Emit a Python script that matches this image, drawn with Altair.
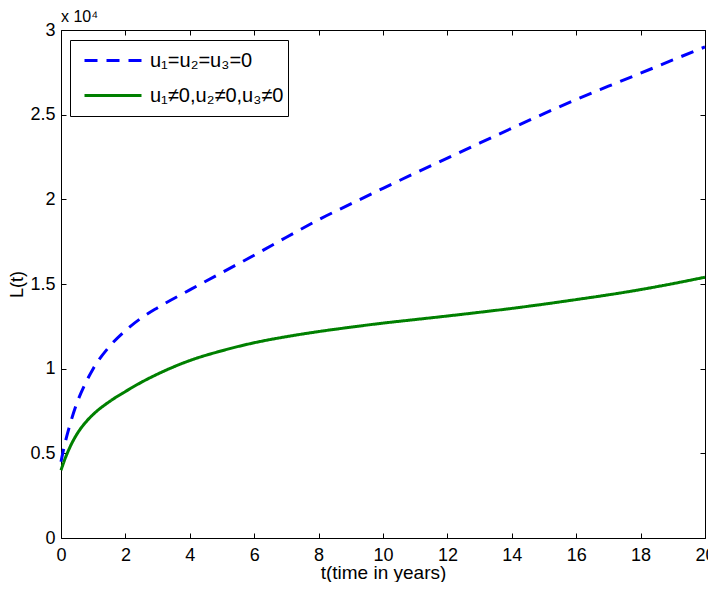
import altair as alt
import pandas as pd

# time in years
t = [0, 0.1, 0.25, 0.5, 0.75, 1, 1.5, 2, 2.5, 3, 4, 5, 6, 7, 8, 9, 10,
     11, 12, 13, 14, 15, 16, 17, 18, 19, 20]
# L(t) without control (u1=u2=u3=0)
L_no_control = [4500, 5400, 6500, 8000, 9100, 10000, 11300, 12250, 13000, 13600,
                14650, 15680, 16700, 17760, 18800, 19730, 20650, 21550, 22430,
                23320, 24200, 25060, 25900, 26680, 27450, 28230, 29000]
# L(t) with control
L_control = [4000, 4550, 5250, 6150, 6800, 7300, 8050, 8650, 9200, 9680,
             10480, 11060, 11530, 11890, 12190, 12450, 12690, 12900, 13110,
             13330, 13560, 13810, 14080, 14360, 14670, 15020, 15400]

series_names = ["u\u2081=u\u2082=u\u2083=0", "u\u2081\u22600,u\u2082\u22600,u\u2083\u22600"]
x_ticks = list(range(0, 21, 2))
y_ticks = [0, 5000, 10000, 15000, 20000, 25000, 30000]

rows = []
for ti, a, b in zip(t, L_no_control, L_control):
    rows.append({"t": ti, "L": a, "series": series_names[0]})
    rows.append({"t": ti, "L": b, "series": series_names[1]})
df = pd.DataFrame(rows)

FONT = "Liberation Sans"
FS = 18

legend = alt.Legend(
    title=None, orient="none", legendX=9, legendY=10, direction="vertical",
    fillColor="white", strokeColor="black", padding=4,
    symbolType="stroke", symbolSize=3249, symbolStrokeWidth=3,
    clipHeight=33, symbolOffset=9, labelOffset=7,
    labelFont=FONT, labelFontSize=20, labelColor="black", labelLimit=0,
)

xscale = alt.Scale(domain=[0, 20], nice=False, zero=False)
yscale = alt.Scale(domain=[0, 30000], nice=False)

lines = alt.Chart(df).mark_line(strokeWidth=3, interpolate="monotone").encode(
    x=alt.X("t:Q", scale=xscale,
            axis=alt.Axis(values=x_ticks, offset=-5, tickSize=5, domain=False,
                          labelPadding=8, title="t(time in years)",
                          titleX=322, titleY=45, titleBaseline="alphabetic",
                          titleAlign="center", titleFontSize=19,
                          labelFlush=False, grid=False)),
    y=alt.Y("L:Q", scale=yscale,
            axis=alt.Axis(values=y_ticks, offset=-5, tickSize=5, domain=False,
                          labelPadding=6, labelExpr="datum.value/10000",
                          title="L(t)", titleX=-44, titleY=254, titleAngle=270,
                          titleBaseline="alphabetic", titleAlign="center",
                          labelFlush=False, grid=False)),
    color=alt.Color("series:N", scale=alt.Scale(domain=series_names, range=["#0000ff", "#008000"]),
                    legend=legend),
    strokeDash=alt.StrokeDash("series:N", scale=alt.Scale(domain=series_names, range=[[13, 9], [1, 0]]),
                              legend=legend),
)

frame = alt.Chart(df).mark_line(opacity=0).encode(
    x=alt.X("t:Q", scale=xscale,
            axis=alt.Axis(orient="top", values=x_ticks, offset=-5, tickSize=5, domain=False,
                          labels=False, title=None, grid=False)),
    y=alt.Y("L:Q", scale=yscale,
            axis=alt.Axis(orient="right", values=y_ticks, offset=-5, tickSize=5, domain=False,
                          labels=False, title=None, grid=False)),
    detail="series:N",
)

chart = alt.layer(lines, frame).resolve_axis(x="independent", y="independent").properties(
    width=644, height=508,
    title=alt.Title("x 10\u2074", anchor="start", frame="group", fontSize=16,
                    fontWeight="normal", font=FONT, color="black", offset=4, dy=8),
    autosize=alt.AutoSizeParams(type="none"),
    padding={"left": 53, "top": 22, "right": 3, "bottom": 44},
)
chart = chart.configure(background="white")
chart = chart.configure_view(stroke="black", strokeWidth=1)
chart = chart.configure_axis(
    labelFont=FONT, labelFontSize=FS, labelColor="black",
    titleFont=FONT, titleFontSize=FS, titleFontWeight="normal", titleColor="black",
    tickColor="black", tickWidth=1,
)

chart.save("out.html", embed_options={"renderer": "svg", "actions": False})
